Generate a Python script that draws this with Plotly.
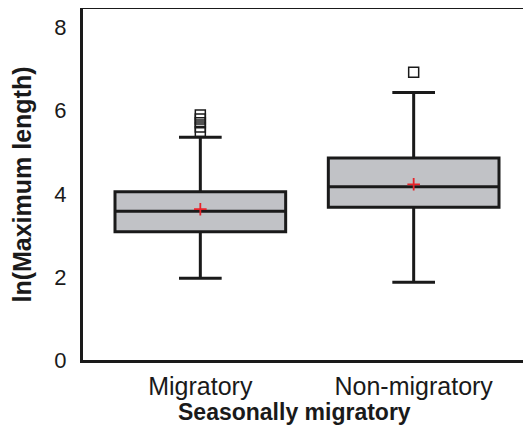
import plotly.graph_objects as go

categories = ["Migratory", "Non-migratory"]
lower_whisker = [1.97, 1.87]
q1 = [3.09, 3.68]
median = [3.58, 4.17]
q3 = [4.05, 4.86]
upper_whisker = [5.36, 6.44]
means = [3.63, 4.23]
outlier_cats = ["Migratory"] * 5 + ["Non-migratory"]
outlier_vals = [5.50, 5.61, 5.71, 5.80, 5.90, 6.93]
y_ticks = [0, 2, 4, 6, 8]

FONT = "Liberation Sans, Arial, sans-serif"
INK = "#1a1a1a"

fig = go.Figure()
fig.add_trace(go.Box(
    x=categories, q1=q1, median=median, q3=q3,
    lowerfence=lower_whisker, upperfence=upper_whisker,
    width=0.8, whiskerwidth=0.25,
    fillcolor="#c1c2c6", line=dict(color=INK, width=3),
    boxpoints=False, showlegend=False, hoverinfo="skip",
))
fig.add_trace(go.Scatter(
    x=outlier_cats, y=outlier_vals, mode="markers",
    marker=dict(symbol="square-open", size=10, color=INK, line=dict(width=1.5, color=INK)),
    showlegend=False, hoverinfo="skip",
))
fig.add_trace(go.Scatter(
    x=categories, y=means, mode="markers",
    marker=dict(symbol="cross-thin", size=9, color="#e8232a", line=dict(width=1.8, color="#e8232a")),
    showlegend=False, hoverinfo="skip",
))

# page body has an 8px default margin, so the figure is sized and placed accordingly
fig.update_layout(
    width=523, height=433,
    margin=dict(l=75, r=0, t=1, b=81),
    paper_bgcolor="white", plot_bgcolor="white",
    font=dict(family=FONT, color=INK),
    xaxis=dict(
        type="category", range=[-0.55, 1.55], automargin=False,
        showline=True, linecolor=INK, linewidth=3, mirror=True,
        showgrid=False, zeroline=False, ticks="",
        tickfont=dict(size=25, color=INK), ticklabelstandoff=2,
    ),
    yaxis=dict(
        range=[0, 8.45], tickvals=y_ticks, automargin=False,
        showline=True, linecolor=INK, linewidth=3, mirror=False,
        showgrid=False, zeroline=False, ticks="",
        tickfont=dict(size=22, color=INK), ticklabelstandoff=9,
        title=dict(text="<b>ln(Maximum length)</b>", font=dict(size=25, color=INK), standoff=17),
    ),
    annotations=[dict(
        text="<b>Seasonally migratory</b>", xref="paper", yref="paper",
        x=0.473, y=-0.148, xanchor="center", yanchor="middle", showarrow=False,
        font=dict(size=23, color=INK),
    )],
)

fig.write_html("out.html", config={"displayModeBar": False})
